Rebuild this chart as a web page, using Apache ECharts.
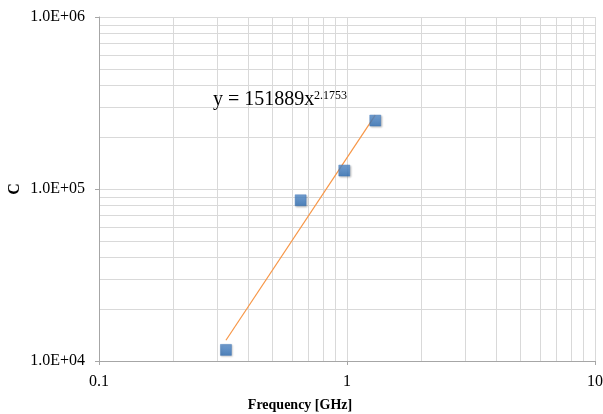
<!DOCTYPE html>
<html>
<head>
<meta charset="utf-8">
<script src="https://cdn.jsdelivr.net/npm/echarts@6/dist/echarts.min.js"></script>
<style>
  html, body { margin: 0; padding: 0; background: #fff; }
  #chart { width: 603px; height: 414px; }
</style>
</head>
<body>
<div id="chart"></div>
<script>
// measured points
const freqGHz = [0.325, 0.65, 0.975, 1.3];
const cValues = [11600, 86000, 128000, 250000];

// power trend line endpoints (y = 151889x^2.1753)
const trendX = [0.325, 1.3];
const trendY = [13200, 268800];

// minor grid positions
const xMinor = [0.2, 0.3, 0.4, 0.5, 0.6, 0.7, 0.8, 0.9, 2, 3, 4, 5, 6, 7, 8, 9];
const yMinor = [20000, 30000, 40000, 50000, 60000, 70000, 80000, 90000,
  200000, 300000, 400000, 500000, 600000, 700000, 800000, 900000];

const font = '"Liberation Serif", "DejaVu Serif", serif';
const gridColor = '#d9d9d9';
const axisColor = '#a6a6a6';

function sciLabel(v) {
  const e = Math.round(Math.log10(v));
  const m = v / Math.pow(10, e);
  return m.toFixed(1) + 'E+' + String(e).padStart(2, '0');
}

const chart = echarts.init(document.getElementById('chart'));

chart.setOption({
  animation: false,
  grid: { left: 99, right: 8, top: 17, bottom: 53, outerBoundsMode: 'none', containLabel: false },
  xAxis: {
    type: 'log',
    logBase: 10,
    min: 0.1,
    max: 10,
    name: 'Frequency [GHz]',
    nameLocation: 'middle',
    nameGap: 37,
    nameTextStyle: {
      fontFamily: font, fontSize: 14, fontWeight: 'bold', color: '#000',
      padding: [0, 94, 0, 0]
    },
    axisLine: { lineStyle: { color: axisColor } },
    axisTick: { show: true, length: 4, lineStyle: { color: axisColor } },
    axisLabel: {
      fontFamily: font, fontSize: 16, color: '#000', margin: 13,
      formatter: (v) => String(+v.toPrecision(3))
    },
    splitLine: { show: true, lineStyle: { color: gridColor } }
  },
  yAxis: {
    type: 'log',
    logBase: 10,
    min: 10000,
    max: 1000000,
    name: 'C',
    nameLocation: 'middle',
    nameGap: 76,
    nameRotate: 90,
    nameMoveOverlap: false,
    nameTextStyle: { fontFamily: font, fontSize: 16, fontWeight: 'bold', color: '#000' },
    axisLine: { show: true, lineStyle: { color: axisColor } },
    axisTick: { show: true, length: 4, lineStyle: { color: axisColor } },
    axisLabel: {
      fontFamily: font, fontSize: 16, color: '#000', margin: 14,
      formatter: sciLabel
    },
    splitLine: { show: true, lineStyle: { color: gridColor } }
  },
  graphic: [
    {
      type: 'text',
      x: 213,
      y: 90,
      z: 10,
      style: { text: 'y = 151889x', font: '20px ' + font, fill: '#000', verticalAlign: 'top' }
    },
    {
      type: 'text',
      x: 314,
      y: 90,
      z: 10,
      style: { text: '2.1753', font: '12px ' + font, fill: '#000', verticalAlign: 'top' }
    }
  ],
  series: [
    {
      type: 'line',
      data: [],
      silent: true,
      z: 0,
      markLine: {
        silent: true,
        z: 0,
        symbol: ['none', 'none'],
        label: { show: false },
        lineStyle: { color: gridColor, type: 'solid', width: 1 },
        data: xMinor.map(v => ({ xAxis: v })).concat(yMinor.map(v => ({ yAxis: v })))
      }
    },
    {
      type: 'line',
      data: trendX.map((x, i) => [x, trendY[i]]),
      symbol: 'none',
      lineStyle: { color: '#f79646', width: 1.2 },
      z: 3
    },
    {
      type: 'scatter',
      data: freqGHz.map((x, i) => [x, cValues[i]]),
      symbol: 'rect',
      symbolSize: 11,
      itemStyle: {
        color: new echarts.graphic.LinearGradient(0, 0, 0, 1, [
          { offset: 0, color: '#5b93d3' },
          { offset: 1, color: '#2f6fb5' }
        ]),
        borderColor: '#3a74b6',
        borderWidth: 0.5,
        shadowColor: 'rgba(0,0,0,0.3)',
        shadowBlur: 2,
        shadowOffsetX: 1,
        shadowOffsetY: 1
      },
      z: 5
    }
  ]
});
</script>
</body>
</html>
